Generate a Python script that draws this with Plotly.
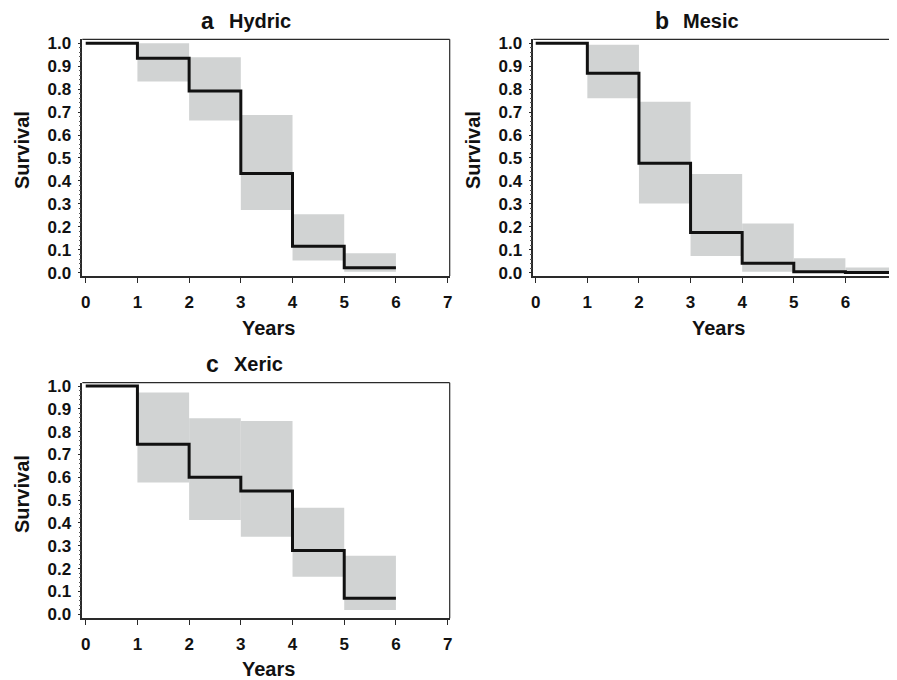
import plotly.graph_objects as go

# ---------------- data ----------------
x_ticks = [0, 1, 2, 3, 4, 5, 6, 7]
y_ticks = [0.0, 0.1, 0.2, 0.3, 0.4, 0.5, 0.6, 0.7, 0.8, 0.9, 1.0]

# Hydric
hydric_t = [0, 1, 2, 3, 4, 5, 6]
hydric_s = [1.0, 0.935, 0.792, 0.433, 0.116, 0.022, 0.022]
hydric_ci_start = [1, 2, 3, 4, 5]
hydric_ci_end = [2, 3, 4, 5, 6]
hydric_lo = [0.833, 0.663, 0.273, 0.054, 0.004]
hydric_hi = [1.0, 0.939, 0.687, 0.255, 0.085]

# Mesic
mesic_t = [0, 1, 2, 3, 4, 5, 6, 7]
mesic_s = [1.0, 0.869, 0.477, 0.176, 0.041, 0.004, 0.001, 0.0]
mesic_ci_start = [1, 2, 3, 4, 5, 6]
mesic_ci_end = [2, 3, 4, 5, 6, 7]
mesic_lo = [0.760, 0.302, 0.073, 0.004, 0.0, 0.0]
mesic_hi = [0.993, 0.745, 0.430, 0.215, 0.063, 0.023]

# Xeric
xeric_t = [0, 1, 2, 3, 4, 5, 6]
xeric_s = [1.0, 0.745, 0.600, 0.540, 0.279, 0.070, 0.070]
xeric_ci_start = [1, 2, 3, 4, 5]
xeric_ci_end = [2, 3, 4, 5, 6]
xeric_lo = [0.577, 0.413, 0.340, 0.165, 0.019]
xeric_hi = [0.972, 0.859, 0.847, 0.467, 0.257]

panel_letters = ["a", "b", "c"]
panel_names = ["Hydric", "Mesic", "Xeric"]

# ---------------- layout constants ----------------
# The page body has an 8px margin, so the figure is sized to the visible window minus it.
OFF = 8
W, H = 897 - OFF, 680 - OFF
FONT = "Liberation Sans, Arial, sans-serif"
BAND = "#d1d3d3"
AXC = "#2a2a2a"
TXT = "#111111"


def px2x(v):
    return (v - OFF) / W


def px2y(v):
    return 1 - (v - OFF) / H


panels = [
    dict(t=hydric_t, s=hydric_s, a=hydric_ci_start, b=hydric_ci_end, lo=hydric_lo, hi=hydric_hi,
         px=(82.3, 449.7), py=(39.3, 276.0), xr=(-0.066, 7.04), yr=(-0.014, 1.017),
         mirror_right=True),
    dict(t=mesic_t, s=mesic_s, a=mesic_ci_start, b=mesic_ci_end, lo=mesic_lo, hi=mesic_hi,
         px=(533.3, 897.0), py=(39.3, 276.0), xr=(-0.047, 7.0), yr=(-0.014, 1.017),
         mirror_right=False),
    dict(t=xeric_t, s=xeric_s, a=xeric_ci_start, b=xeric_ci_end, lo=xeric_lo, hi=xeric_hi,
         px=(82.3, 449.7), py=(382.7, 618.3), xr=(-0.066, 7.04), yr=(-0.0175, 1.0145),
         mirror_right=True),
]

fig = go.Figure()
layout = dict(
    width=W, height=H, margin=dict(l=0, r=0, t=0, b=0, autoexpand=False),
    paper_bgcolor="white", plot_bgcolor="white", showlegend=False,
    font=dict(family=FONT, color=TXT),
)
annotations = []
shapes = []

for i, p in enumerate(panels):
    xa = "x" if i == 0 else f"x{i+1}"
    ya = "y" if i == 0 else f"y{i+1}"
    xkey = "xaxis" if i == 0 else f"xaxis{i+1}"
    ykey = "yaxis" if i == 0 else f"yaxis{i+1}"

    # CI bands
    for a, b, lo, hi in zip(p["a"], p["b"], p["lo"], p["hi"]):
        fig.add_trace(go.Scatter(
            x=[a, b, b, a, a], y=[lo, lo, hi, hi, lo], mode="lines",
            fill="toself", fillcolor=BAND, line=dict(width=0, color=BAND),
            xaxis=xa, yaxis=ya, hoverinfo="skip"))
    # survival step
    fig.add_trace(go.Scatter(
        x=p["t"], y=p["s"], mode="lines", line=dict(color=TXT, width=3, shape="hv"),
        xaxis=xa, yaxis=ya, cliponaxis=False))

    dx = (px2x(p["px"][0]), min(px2x(p["px"][1]), 1.0))
    dy = (px2y(p["py"][1]), px2y(p["py"][0]))
    layout[xkey] = dict(
        domain=list(dx), range=list(p["xr"]), anchor=ya, tickvals=x_ticks,
        ticks="outside", ticklen=5, tickwidth=1.2, tickcolor=AXC,
        showline=True, linecolor=AXC, linewidth=1.5, mirror=False, automargin=False,
        showgrid=False, zeroline=False, ticklabelstandoff=5, ticklabeloverflow="allow",
        tickfont=dict(family=FONT, size=17, color=TXT, weight="bold"))
    layout[ykey] = dict(
        domain=list(dy), range=list(p["yr"]), anchor=xa, tickvals=y_ticks, tickformat=".1f",
        ticks="outside", ticklen=3, tickwidth=1.2, tickcolor=AXC,
        minor=dict(dtick=0.02, ticks="outside", ticklen=2, tickcolor="#555555", tickwidth=0.8),
        showline=True, linecolor=AXC, linewidth=1.5, mirror=False, automargin=False,
        showgrid=False, zeroline=False, ticklabelstandoff=3,
        tickfont=dict(family=FONT, size=17, color=TXT, weight="bold"))

    # top and right frame lines
    shapes.append(dict(type="line", xref="paper", yref="paper", x0=dx[0], x1=dx[1], y0=dy[1], y1=dy[1],
                       line=dict(color=AXC, width=1.2)))
    if p["mirror_right"]:
        shapes.append(dict(type="line", xref="paper", yref="paper", x0=dx[1], x1=dx[1], y0=dy[0], y1=dy[1],
                           line=dict(color=AXC, width=1.2)))

# (letter right edge, name left edge, vertical centre) in window pixels
title_pos = [(216.0, 227.0, 21), (671.0, 681.0, 21), (221.0, 232.0, 364)]
for (lx, nx, ty), letter, name in zip(title_pos, panel_letters, panel_names):
    annotations.append(dict(text=f"<b>{letter}</b>", x=px2x(lx), y=px2y(ty), xref="paper", yref="paper",
                            showarrow=False, xanchor="right", yanchor="middle",
                            font=dict(family=FONT, size=23, color=TXT)))
    annotations.append(dict(text=f"<b>{name}</b>", x=px2x(nx), y=px2y(ty), xref="paper", yref="paper",
                            showarrow=False, xanchor="left", yanchor="middle",
                            font=dict(family=FONT, size=20, color=TXT)))

years_pos = [(268.0, 328.0), (718.0, 328.0), (268.0, 669.0)]
for xp, yp in years_pos:
    annotations.append(dict(text="<b>Years</b>", x=px2x(xp), y=px2y(yp), xref="paper", yref="paper",
                            showarrow=False, xanchor="center", yanchor="middle",
                            font=dict(family=FONT, size=20, color=TXT)))

surv_pos = [(22.0, 150.0), (473.0, 150.0), (22.0, 494.0)]
for xp, yp in surv_pos:
    annotations.append(dict(text="<b>Survival</b>", x=px2x(xp), y=px2y(yp), xref="paper", yref="paper",
                            showarrow=False, xanchor="center", yanchor="middle", textangle=-90,
                            font=dict(family=FONT, size=20, color=TXT)))

layout["annotations"] = annotations
layout["shapes"] = shapes
fig.update_layout(**layout)
fig.write_html("out.html")
